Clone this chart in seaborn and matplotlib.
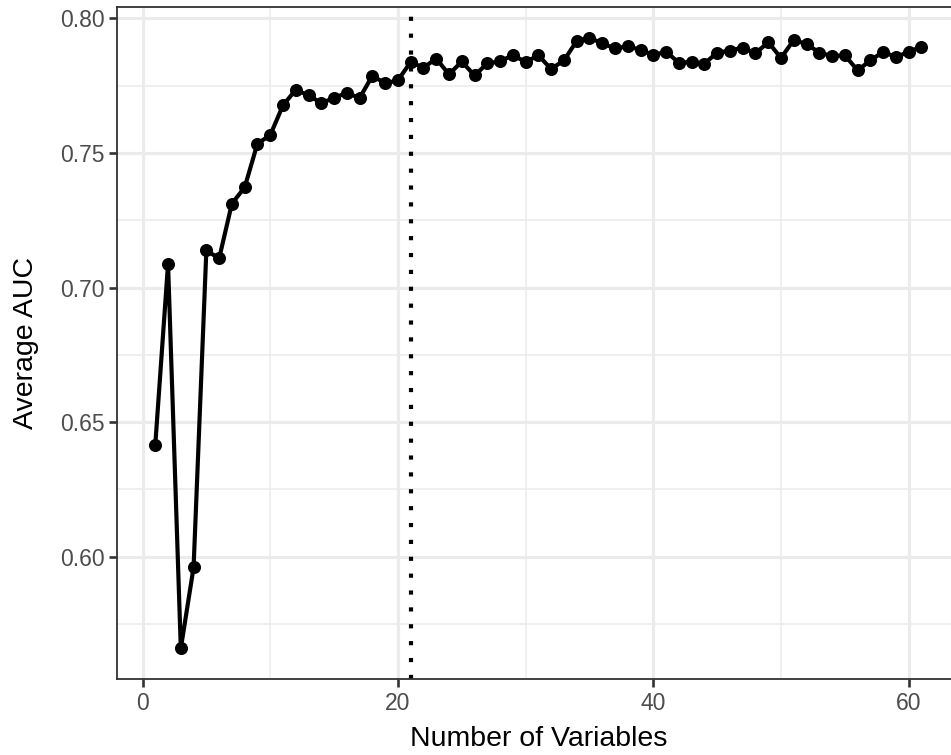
import numpy as np
import pandas as pd
import matplotlib
matplotlib.use("Agg")
import matplotlib.pyplot as plt
import seaborn as sns
from matplotlib.ticker import MultipleLocator

# Average AUC by number of variables kept in the model
n_vars = list(range(1, 62))
avg_auc = [
    0.6415, 0.7088, 0.5659, 0.5960, 0.7138, 0.7108, 0.7312, 0.7372, 0.7535, 0.7566,
    0.7677, 0.7735, 0.7714, 0.7686, 0.7704, 0.7724, 0.7704, 0.7787, 0.7759, 0.7770,
    0.7838, 0.7817, 0.7851, 0.7792, 0.7840, 0.7788, 0.7833, 0.7840, 0.7864, 0.7838,
    0.7863, 0.7812, 0.7844, 0.7916, 0.7929, 0.7907, 0.7889, 0.7896, 0.7884, 0.7863,
    0.7877, 0.7835, 0.7839, 0.7832, 0.7873, 0.7880, 0.7892, 0.7870, 0.7912, 0.7853,
    0.7920, 0.7905, 0.7873, 0.7860, 0.7863, 0.7807, 0.7844, 0.7876, 0.7856, 0.7876,
    0.7895,
]
selected_n = 21
x_ticks = [0, 20, 40, 60]
y_ticks = [0.60, 0.65, 0.70, 0.75, 0.80]

df = pd.DataFrame({"n": n_vars, "auc": avg_auc})

sns.set_theme(style="white")
plt.rcParams["font.family"] = ["Liberation Sans", "DejaVu Sans"]

W, H = 951, 755
fig = plt.figure(figsize=(W / 100, H / 100), dpi=100)

# panel geometry in pixels (the right border runs past the canvas edge)
x_lo, x_hi = -2.0, 64.0
px_per_unit = 12.77
left_px = 142.5 + x_lo * px_per_unit
width_px = (x_hi - x_lo) * px_per_unit
top_px, bottom_px = 7.0, 679.0
height_px = bottom_px - top_px
ax = fig.add_axes([left_px / W, 1 - bottom_px / H, width_px / W, height_px / H])

ymin, ymax = min(avg_auc), max(avg_auc)
pad = (ymax - ymin) * 0.05
ax.set_xlim(x_lo, x_hi)
ax.set_ylim(ymin - pad, ymax + pad)

ax.set_xticks(x_ticks)
ax.set_yticks(y_ticks)
ax.set_yticklabels([f"{v:.2f}" for v in y_ticks])
ax.xaxis.set_minor_locator(MultipleLocator(10))
ax.yaxis.set_minor_locator(MultipleLocator(0.025))

ax.grid(True, which="major", color="#EBEBEB", linewidth=2.3)
ax.grid(True, which="minor", color="#EBEBEB", linewidth=1.15)
ax.set_axisbelow(True)

for side in ["left", "bottom", "top"]:
    ax.spines[side].set_color("#333333")
    ax.spines[side].set_linewidth(1.3)
ax.spines["right"].set_visible(False)

ax.tick_params(axis="both", which="major", direction="out", length=5.5, width=1.9,
               color="#333333", labelcolor="#4D4D4D", labelsize=16.5, pad=3.5)
ax.tick_params(axis="both", which="minor", length=0)
ax.tick_params(left=True, bottom=True)

sns.lineplot(data=df, x="n", y="auc", ax=ax, color="black", linewidth=3.0,
             marker="o", markersize=9.4, markeredgewidth=0, zorder=3)

ax.axvline(selected_n, color="black", linewidth=3.0, linestyle=(0, (1, 3.05)),
           dash_capstyle="butt", zorder=2)

ax.set_xlabel("Number of Variables", fontsize=20.5, color="black")
ax.set_ylabel("Average AUC", fontsize=20.5, color="black")
ax.xaxis.set_label_coords(0.5, -(746 - bottom_px) / height_px)
ax.xaxis.label.set_va("baseline")
ax.yaxis.set_label_coords((26 - left_px) / width_px, 0.5)
ax.yaxis.label.set_va("center")

fig.savefig("out.png", dpi=100, facecolor="white")
